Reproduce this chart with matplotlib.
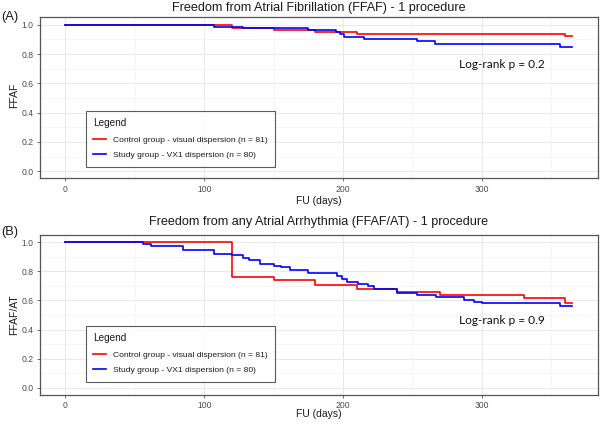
import matplotlib
matplotlib.use("Agg")
import matplotlib.pyplot as plt

# ---------------- data ----------------
# Panel A: Freedom from AF
a_ctrl_t = [0, 120, 150, 180, 210, 360, 365]
a_ctrl_s = [1.0, 0.975, 0.963, 0.951, 0.938, 0.926, 0.926]
a_study_t = [0, 107, 128, 175, 195, 198, 201, 215, 253, 266, 356, 365]
a_study_s = [1.0, 0.9875, 0.975, 0.9625, 0.95, 0.935, 0.92, 0.90, 0.8875, 0.872, 0.85, 0.85]

# Panel B: Freedom from any atrial arrhythmia
b_ctrl_t = [0, 120, 150, 180, 210, 239, 270, 330, 360, 365]
b_ctrl_s = [1.0, 0.758, 0.743, 0.703, 0.68, 0.658, 0.636, 0.617, 0.58, 0.58]
b_study_t = [0, 56, 62, 85, 107, 120, 128, 132, 140, 150, 155, 162, 175, 196, 199,
             203, 211, 218, 222, 239, 253, 267, 287, 294, 300, 356, 365]
b_study_s = [1.0, 0.987, 0.974, 0.95, 0.922, 0.91, 0.89, 0.876, 0.853, 0.839, 0.828,
             0.81, 0.79, 0.77, 0.75, 0.73, 0.714, 0.70, 0.68, 0.651, 0.636, 0.625,
             0.602, 0.59, 0.58, 0.564, 0.564]

labels = ["Control group - visual dispersion (n = 81)",
          "Study group - VX1 dispersion (n = 80)"]
titles = ["Freedom from Atrial Fibrillation (FFAF) - 1 procedure",
          "Freedom from any Atrial Arrhythmia (FFAF/AT) - 1 procedure"]
ylabels = ["FFAF", "FFAF/AT"]
panel_tags = ["(A)", "(B)"]
pvals = ["Log-rank p = 0.2", "Log-rank p = 0.9"]
xticks = [0, 100, 200, 300]
yticks = [0.0, 0.2, 0.4, 0.6, 0.8, 1.0]

W, H = 600, 424
fig = plt.figure(figsize=(W / 100, H / 100), dpi=100)
FONT = "Liberation Sans"

def px(x, y):
    return x / W, 1 - y / H

# axes boxes in pixels: (left, top, right, bottom)
boxes = [(40, 17.5, 597.5, 178.5), (40, 235, 597.5, 395)]
legend_tops = [111, 326]
title_y = [8, 222]
tag_y = [16.7, 231.7]
xlab_y = [201, 414]
ylab_y = [95, 315]
pval_y = [64.3, 320.5]
data = [(a_ctrl_t, a_ctrl_s, a_study_t, a_study_s),
        (b_ctrl_t, b_ctrl_s, b_study_t, b_study_s)]

for i in range(2):
    l, t, r, b = boxes[i]
    ax = fig.add_axes([l / W, 1 - b / H, (r - l) / W, (b - t) / H])
    ct, cs, st, ss = data[i]
    ax.plot(ct, cs, drawstyle="steps-post", color="#FF0000", lw=1.2, label=labels[0], zorder=3)
    ax.plot(st, ss, drawstyle="steps-post", color="#0000FF", lw=1.2, label=labels[1], zorder=4)
    ax.set_xlim(-18.25, 383.25)
    ax.set_ylim(-0.05, 1.05)
    ax.set_xticks(xticks)
    ax.set_yticks(yticks)
    ax.set_yticklabels([f"{v:.1f}" for v in yticks])
    ax.set_xticks([50, 150, 250, 350], minor=True)
    ax.set_yticks([0.1, 0.3, 0.5, 0.7, 0.9], minor=True)
    ax.grid(True, which="major", color="#E6E6E6", lw=0.6, zorder=0)
    ax.grid(True, which="minor", color="#F0F0F0", lw=0.4, zorder=0)
    ax.tick_params(which="minor", length=0)
    ax.tick_params(which="major", length=2.5, width=0.6, color="#555555",
                   labelcolor="#4D4D4D", labelsize=6.2, pad=2)
    for lab in ax.get_xticklabels() + ax.get_yticklabels():
        lab.set_family(FONT)
    for sp in ax.spines.values():
        sp.set_color("#555555")
        sp.set_linewidth(0.9)
    ax.set_axisbelow(True)

    cx = (l + r) / 2
    fig.text(*px(cx, title_y[i]), titles[i], ha="center", va="center",
             fontsize=9.1, family=FONT, color="#1a1a1a")
    fig.text(*px(1.5, tag_y[i]), panel_tags[i], ha="left", va="center",
             fontsize=9.3, family=FONT, color="#1a1a1a")
    fig.text(*px(cx, xlab_y[i]), "FU (days)", ha="center", va="center",
             fontsize=7.5, family=FONT, color="#1a1a1a")
    fig.text(*px(14.5, ylab_y[i]), ylabels[i], ha="center", va="center",
             rotation=90, fontsize=7.5, family=FONT, color="#1a1a1a")
    fig.text(*px(459, pval_y[i]), pvals[i], ha="left", va="center",
             fontsize=8.6, family="Lato", color="#111111")

    leg = ax.legend(loc="upper left",
                    bbox_to_anchor=(86 / W, 1 - legend_tops[i] / H),
                    bbox_transform=fig.transFigure, borderaxespad=0,
                    title="Legend", title_fontsize=7.2,
                    frameon=True, fancybox=False, edgecolor="#333333",
                    borderpad=0.85, handlelength=1.5, handletextpad=0.8,
                    labelspacing=0.9, alignment="left",
                    prop={"family": FONT, "size": 6.1})
    leg.get_frame().set_linewidth(0.8)
    leg.get_title().set_family(FONT)
    leg.get_title().set_color("#1a1a1a")
    for txt in leg.get_texts():
        txt.set_color("#1a1a1a")

fig.savefig("out.png", dpi=100)
